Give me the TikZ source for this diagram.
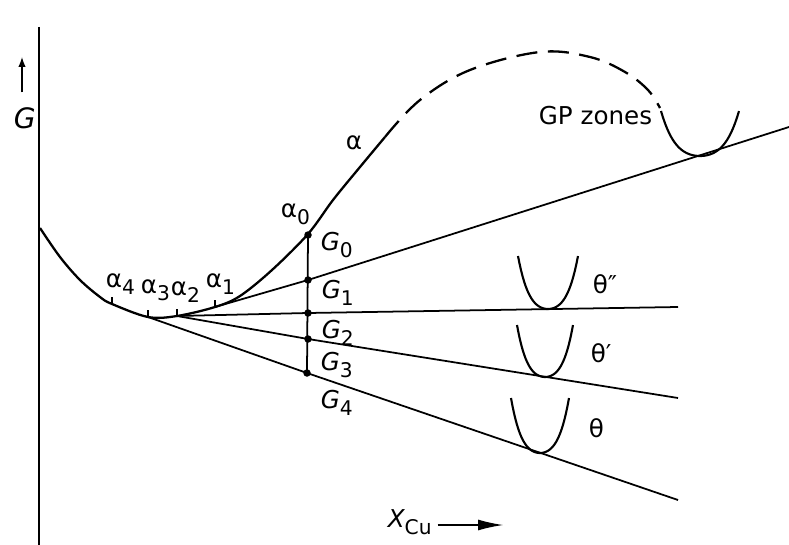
\documentclass[tikz,border=0pt]{standalone}
\usepackage{fontspec}
\setmainfont{DejaVu Sans}
\usetikzlibrary{arrows.meta, positioning}

\newcommand{\subs}[1]{\raisebox{-4pt}{\fontsize{11.5}{12}\selectfont #1}}

\begin{document}
\begin{tikzpicture}[x=0.2mm, y=-0.2mm, line width=1pt,
    lbl/.style={inner sep=0pt, anchor=base west, font=\fontsize{14}{16}\selectfont},
    dot/.style={circle, fill, inner sep=0pt, minimum size=1.5mm},
    tickmark/.style={line width=0.8pt},
    well/.style={line width=1.2pt},
    curve/.style={line width=1.3pt}]

    \useasboundingbox (0,0) rectangle (789,545);

    % ---------------------------------------------------
    % 1. Axes
    % ---------------------------------------------------
    \coordinate (ytop) at (39,27);
    \coordinate (ybot) at (39,545);
    \draw[line width=0.8pt] (ytop) -- (ybot);

    \node[lbl, font=\fontsize{16}{18}\selectfont] (glab) at (13,128) {\itshape G};
    \coordinate (gtip) at (22,57);
    \draw[line width=0.8pt, -{Latex[length=2mm, width=1.5mm]}] (glab.north -| gtip) ++(0,-14) -- (gtip);

    \node[lbl] (xlab) at (387,527) {\itshape X\subs{\upshape Cu}};
    \coordinate (xtip) at (503,525);
    \draw[line width=0.7pt, -{Latex[length=5mm, width=2.2mm]}] (xlab.east |- xtip) ++(5,0) -- (xtip);

    % ---------------------------------------------------
    % 2. Alpha curve
    % ---------------------------------------------------
    \coordinate (a4) at (112,304);
    \coordinate (a3) at (148,317);
    \coordinate (a2) at (177,316);
    \coordinate (a1) at (215,307);
    \coordinate (aend) at (385,137);

    \draw[curve] plot[smooth, tension=0.55] coordinates {(40,228) (60,257) (80,280) (100,297) (a4) (a3) (a2) (a1) (240,296) (272,270) (308,234) (333,200) (360,167) (aend)};
    \draw[curve, dash pattern=on 12pt off 6pt] plot[smooth, tension=0.6] coordinates {(aend) (420,100) (470,70) (540,52) (590,57) (625,72) (648,90) (660,108)};

    % ticks on the curve
    \foreach \p in {a4,a3,a2,a1}
        \draw[tickmark] (\p) -- ++(0,-7);

    \node[lbl] (la) at (345,150) {α};
    \node[lbl] (la0) at (280,217) {α\subs{0}};
    \node[lbl] (la1) at (205,287) {α\subs{1}};
    \node[lbl] (la2) at (170,295) {α\subs{2}};
    \node[lbl] (la3) at (140,293) {α\subs{3}};
    \node[lbl] (la4) at (105,287) {α\subs{4}};

    % ---------------------------------------------------
    % 3. Tangents and G points
    % ---------------------------------------------------
    \node[dot] (G0) at (308,235) {};
    \node[dot] (G1) at (308,280) {};
    \node[dot] (G2) at (308,313) {};
    \node[dot] (G3) at (308,339) {};
    \node[dot] (G4) at (307,373) {};
    \draw (G0.center) -- (G4.center);

    \coordinate (e1) at (789,127);
    \coordinate (e2) at (678,307);
    \coordinate (e3) at (678,398);
    \coordinate (e4) at (678,500);

    \draw (a1) -- (G1.center) -- (e1);
    \draw (a2) -- (G2.center) -- (e2);
    \draw (a2) -- (G3.center) -- (e3);
    \draw (a3) -- (G4.center) -- (e4);

    \node[lbl] (lg0) at (320,250) {\itshape G\subs{\upshape 0}};
    \node[lbl] (lg1) at (321,298) {\itshape G\subs{\upshape 1}};
    \node[lbl] (lg2) at (321,338) {\itshape G\subs{\upshape 2}};
    \node[lbl] (lg3) at (320,370) {\itshape G\subs{\upshape 3}};
    \node[lbl] (lg4) at (320,408) {\itshape G\subs{\upshape 4}};

    % ---------------------------------------------------
    % 4. Phase wells
    % ---------------------------------------------------
    \foreach \cx/\cy/\w/\h in {548/309/30/53, 545/377/28/52, 540/453/29/55, 700/156/39/45}
        \draw[well] plot[domain=-1:1, samples=41] ({\cx+\w*\x}, {\cy-\h*(0.5*\x*\x+0.5*\x*\x*\x*\x)});

    \node[lbl] (lth2) at (592,293) {θ″};
    \node[lbl] (lth1) at (590,362) {θ′};
    \node[lbl] (lth0) at (588,437) {θ};
    \node[lbl] (lgp) at (538,125) {GP zones};

\end{tikzpicture}
\end{document}
